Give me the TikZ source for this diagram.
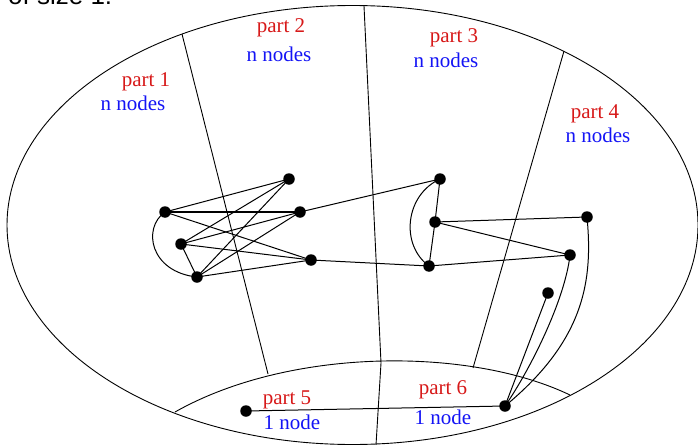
\documentclass[tikz,border=0pt]{standalone}
\usepackage{fontspec}
\setmainfont{Liberation Serif}
\newfontfamily\topfont{Liberation Sans}
\definecolor{partred}{RGB}{215,25,25}
\definecolor{partblue}{RGB}{20,20,245}
\begin{document}
\begin{tikzpicture}[x=1pt,y=-1pt,
  dot/.style={circle,fill=black,inner sep=0pt,minimum size=11.5pt},
  edge/.style={line width=1pt},
  region/.style={line width=0.9pt},
  plabel/.style={text=partred,inner sep=0pt,font=\fontsize{21}{25}\selectfont},
  nlabel/.style={text=partblue,inner sep=0pt,font=\fontsize{21}{25}\selectfont}]
\useasboundingbox (0,0) rectangle (698,444);
\clip (0,0) rectangle (698,444);
% cropped caption text at the very top
\node[anchor=base west,inner sep=0pt,font=\topfont\fontsize{26}{30}\selectfont] (cap) at (8,5) {of size 1:};
% outer ellipse
\draw[region] (352.5,225) ellipse [x radius=345.5, y radius=219.5];
% region boundaries
\coordinate (l1a) at (182,34);
\coordinate (l1b) at (268,374);
\coordinate (l2a) at (364,6);
\coordinate (l2b) at (381,363);
\coordinate (l2c) at (376,445);
\coordinate (l3a) at (564,51);
\coordinate (l3b) at (473,368);
\coordinate (lensL) at (175,412);
\coordinate (lensR) at (570,395);
\draw[region] (lensL) .. controls (290,347) and (470,347) .. (lensR);
\draw[region] (l1a) -- (l1b);
\draw[region] (l2a) -- (l2b) -- (l2c);
\draw[region] (l3a) -- (l3b);
% labels
\node[plabel] (p1) at (146,82) {part 1};
\node[nlabel] (n1) at (133,103) {n nodes};
\node[plabel] (p2) at (281,28) {part 2};
\node[nlabel] (n2) at (279,54) {n nodes};
\node[plabel] (p3) at (454,38) {part 3};
\node[nlabel] (n3) at (446,60) {n nodes};
\node[plabel] (p4) at (595,114) {part 4};
\node[nlabel] (n4) at (598,135) {n nodes};
\node[plabel] (p5) at (287,400) {part 5};
\node[nlabel] (n5) at (292,422) {1 node};
\node[plabel] (p6) at (443,390) {part 6};
\node[nlabel] (n6) at (443,417) {1 node};
% vertices
\node[dot] (A) at (165,212) {};
\node[dot] (B) at (289,179) {};
\node[dot] (C) at (300,212) {};
\node[dot] (D) at (181,244) {};
\node[dot] (E) at (311,260) {};
\node[dot] (F) at (197,277) {};
\node[dot] (G) at (440,179) {};
\node[dot] (H) at (435,222) {};
\node[dot] (I) at (429,266) {};
\node[dot] (J) at (587,217) {};
\node[dot] (K) at (570,255) {};
\node[dot] (L) at (548,293) {};
\node[dot] (M) at (505,406) {};
\node[dot] (N) at (246,411) {};
% edges
\draw[edge] (A.center) -- (B.center);
\draw[line width=1.4pt] (A.center) -- (C.center);
\draw[edge] (A.center) -- (E.center);
\draw[edge] (A.center) .. controls (142,228) and (150,272) .. (F.center);
\draw[edge] (D.center) -- (B.center);
\draw[edge] (D.center) -- (C.center);
\draw[edge] (D.center) -- (E.center);
\draw[edge] (D.center) -- (F.center);
\draw[edge] (F.center) -- (B.center);
\draw[edge] (F.center) -- (C.center);
\draw[edge] (F.center) -- (E.center);
\draw[edge] (C.center) -- (G.center);
\draw[edge] (E.center) -- (I.center);
\draw[edge] (G.center) -- (H.center);
\draw[edge] (H.center) -- (I.center);
\draw[edge] (G.center) .. controls (405,195) and (400,245) .. (I.center);
\draw[edge] (H.center) -- (J.center);
\draw[edge] (H.center) -- (K.center);
\draw[edge] (I.center) -- (K.center);
\draw[edge] (J.center) .. controls (593,280) and (585,340) .. (M.center);
\draw[edge] (K.center) .. controls (565,300) and (530,370) .. (M.center);
\draw[edge] (L.center) -- (M.center);
\draw[edge] (N.center) -- (M.center);
\end{tikzpicture}
\end{document}
